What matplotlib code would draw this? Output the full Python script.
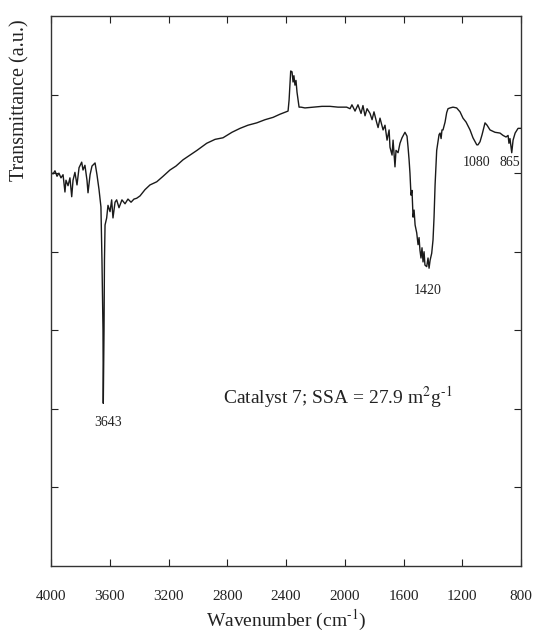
import matplotlib
matplotlib.use("Agg")
import matplotlib.pyplot as plt

plt.rcParams['font.family'] = ['Liberation Serif', 'DejaVu Serif']
plt.rcParams['mathtext.fontset'] = 'stix'

wavenumber = [
    4000, 3986, 3973, 3959, 3946, 3932, 3918, 3905, 3898, 3884, 3871, 3859, 3850, 3837,
    3823, 3809, 3791, 3782, 3769, 3755, 3748, 3734, 3721, 3700, 3687, 3673, 3660, 3653,
    3646, 3644, 3639, 3636, 3632, 3621, 3612, 3598, 3587, 3578, 3564, 3553, 3537, 3517,
    3496, 3476, 3455, 3435, 3417, 3394, 3360, 3326, 3280, 3237, 3190, 3149, 3101, 3054,
    3006, 2940, 2883, 2829, 2768, 2713, 2659, 2599, 2543, 2488, 2441, 2386, 2379, 2373,
    2368, 2359, 2352, 2346, 2339, 2332, 2325, 2311, 2298, 2271, 2216, 2155, 2100, 2046,
    1987, 1964, 1951, 1930, 1910, 1889, 1876, 1862, 1848, 1828, 1814, 1801, 1782, 1773,
    1760, 1739, 1726, 1712, 1698, 1692, 1678, 1671, 1658, 1651, 1637, 1624, 1610, 1590,
    1576, 1569, 1562, 1556, 1549, 1542, 1535, 1528, 1521, 1510, 1501, 1494, 1488, 1481,
    1474, 1467, 1460, 1454, 1442, 1433, 1426, 1419, 1408, 1399, 1392, 1385, 1374, 1365,
    1358, 1351, 1344, 1338, 1331, 1317, 1306, 1297, 1283, 1263, 1238, 1215, 1195, 1174,
    1147, 1127, 1101, 1093, 1079, 1065, 1045, 1031, 1011, 977, 943, 922, 902, 888, 882,
    875, 863, 854, 840, 820, 800,
]
transmittance = [
    5.01, 4.99, 5.03, 4.96, 5.00, 4.94, 4.98, 4.76, 4.91, 4.84, 4.94, 4.70, 4.91, 5.01,
    4.85, 5.07, 5.14, 5.04, 5.10, 4.91, 4.75, 4.98, 5.09, 5.13, 4.98, 4.79, 4.57, 3.89,
    3.00, 2.07, 3.00, 3.89, 4.34, 4.43, 4.59, 4.51, 4.66, 4.43, 4.63, 4.66, 4.56, 4.66,
    4.61, 4.67, 4.63, 4.67, 4.68, 4.71, 4.79, 4.85, 4.89, 4.96, 5.04, 5.09, 5.17, 5.23,
    5.29, 5.38, 5.43, 5.45, 5.52, 5.57, 5.61, 5.64, 5.68, 5.71, 5.75, 5.79, 5.93, 6.12,
    6.30, 6.29, 6.16, 6.24, 6.12, 6.18, 6.03, 5.84, 5.84, 5.83, 5.84, 5.85, 5.85, 5.84,
    5.84, 5.82, 5.87, 5.79, 5.87, 5.76, 5.86, 5.73, 5.82, 5.76, 5.68, 5.78, 5.64, 5.58,
    5.70, 5.55, 5.61, 5.42, 5.55, 5.33, 5.23, 5.42, 5.08, 5.29, 5.26, 5.38, 5.45, 5.52,
    5.47, 5.33, 5.17, 5.00, 4.72, 4.78, 4.44, 4.53, 4.34, 4.24, 4.09, 4.18, 4.02, 3.92,
    4.05, 3.87, 4.00, 3.83, 3.81, 3.92, 3.79, 3.89, 3.98, 4.15, 4.44, 4.85, 5.29, 5.40,
    5.49, 5.51, 5.44, 5.55, 5.55, 5.65, 5.77, 5.82, 5.83, 5.84, 5.83, 5.78, 5.70, 5.65,
    5.55, 5.45, 5.36, 5.36, 5.40, 5.49, 5.64, 5.61, 5.55, 5.52, 5.51, 5.48, 5.46, 5.48, 5.38,
    5.44, 5.26, 5.42, 5.51, 5.57, 5.57,
]

x_ticks = [4000, 3600, 3200, 2800, 2400, 2000, 1600, 1200, 800]
y_ticks = [1, 2, 3, 4, 5, 6]

peak_labels = ["3643", "1420", "1080", "865"]
peak_label_x = [3612, 1433, 1100, 875]
peak_label_y = [1.82, 3.51, 5.13, 5.13]

annotation = r"Catalyst 7; SSA = 27.9 m$^{2}$g$^{\text{-}1}$"

fig = plt.figure(figsize=(5.40, 6.41), dpi=100)
ax = fig.add_axes([51/540, 1 - 566/641, 470/540, 550/641])

ax.plot(wavenumber, transmittance, color='#1a1a1a', linewidth=1.0)

ax.set_xlim(4000, 800)
ax.set_ylim(0, 7)
ax.set_xticks(x_ticks)
ax.set_xticklabels([str(t) for t in x_ticks], fontsize=11)
ax.set_yticks(y_ticks)
ax.set_yticklabels([])
ax.tick_params(direction='in', top=True, right=True, length=5, width=0.8,
               colors='#222222', labelcolor='#222222')
ax.tick_params(axis='x', pad=17)
for s in ax.spines.values():
    s.set_linewidth(1.0)
    s.set_color('#333333')

for lab, lx, ly in zip(peak_labels, peak_label_x, peak_label_y):
    ax.text(lx, ly, lab, fontsize=10, ha='center', va='center', color='#222222')

ax.text(2046, 2.15, annotation, fontsize=14, ha='center', va='center', color='#222222')

ax.set_xlabel(r"Wavenumber (cm$^{\text{-}1}$)", fontsize=14, color='#222222', labelpad=4)
ax.set_ylabel("Transmittance (a.u.)", fontsize=14.5, color='#222222')
ax.yaxis.set_label_coords(-0.045, 0.847)

fig.savefig("out.png", dpi=100)
